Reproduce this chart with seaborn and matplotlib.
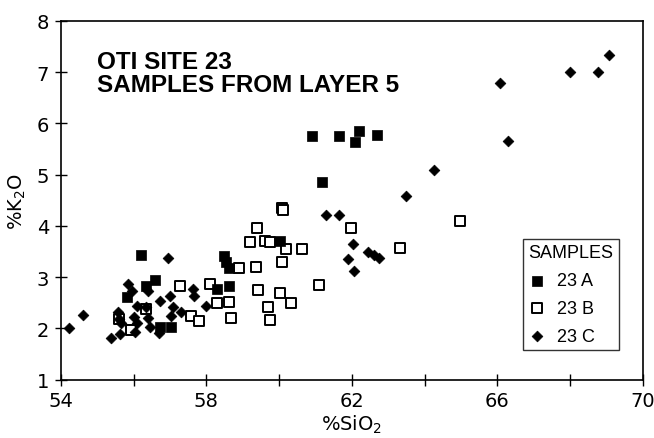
import pandas as pd
import seaborn as sns
import matplotlib.pyplot as plt


# %SiO2 / %K2O
a_sio2 = [56.2, 56.58, 55.82, 56.74, 57.04, 58.48, 58.53, 58.62, 58.28, 58.62,
          56.34, 60.03, 60.91, 61.65, 62.21, 62.1, 62.69, 61.18]
a_k2o = [3.44, 2.95, 2.62, 2.03, 2.03, 3.41, 3.30, 3.17, 2.76, 2.82,
         2.83, 3.71, 5.76, 5.76, 5.86, 5.64, 5.78, 4.86]

b_sio2 = [57.27, 58.09, 58.28, 58.62, 58.67, 57.59, 57.8, 55.94, 56.34, 55.6,
          58.9, 59.36, 59.42, 59.4, 59.21, 59.6, 59.74, 60.18, 60.62, 60.08,
          60.02, 60.33, 59.69, 59.74, 61.1, 61.97, 63.32, 64.98, 60.08, 60.1]
b_k2o = [2.82, 2.86, 2.49, 2.52, 2.21, 2.25, 2.15, 1.97, 2.38, 2.18,
         3.17, 3.19, 2.75, 3.95, 3.68, 3.71, 3.68, 3.54, 3.54, 3.3,
         2.7, 2.49, 2.41, 2.16, 2.85, 3.95, 3.56, 4.09, 4.34, 4.32]

c_sio2 = [54.23, 54.61, 55.37, 55.62, 55.57, 55.6, 55.65, 55.85, 55.97, 56.01,
          56.1, 56.03, 56.1, 56.35, 56.4, 56.4, 56.45, 56.69, 56.74, 56.95,
          56.99, 57.08, 57.02, 57.31, 57.62, 57.66, 58.0, 61.3, 61.65, 63.49,
          62.03, 61.9, 62.06, 62.45, 62.6, 62.76, 64.27, 66.08, 68.01, 68.78,
          69.08, 66.29]
c_k2o = [2.0, 2.26, 1.82, 1.89, 2.32, 2.18, 2.1, 2.87, 2.73, 2.23,
         2.1, 1.93, 2.44, 2.41, 2.21, 2.73, 2.02, 1.91, 2.54, 3.37,
         2.64, 2.41, 2.25, 2.32, 2.77, 2.64, 2.44, 4.22, 4.22, 4.58,
         3.65, 3.36, 3.12, 3.5, 3.44, 3.37, 5.09, 6.78, 7.0, 7.0,
         7.34, 5.66]

x_ticks = [54, 56, 58, 60, 62, 64, 66, 68, 70]
x_labels = ["54", "", "58", "", "62", "", "66", "", "70"]
y_ticks = [1, 2, 3, 4, 5, 6, 7, 8]

df_a = pd.DataFrame({"SiO2": a_sio2, "K2O": a_k2o})
df_b = pd.DataFrame({"SiO2": b_sio2, "K2O": b_k2o})
df_c = pd.DataFrame({"SiO2": c_sio2, "K2O": c_k2o})

sns.set_style("ticks")
plt.rcParams["font.family"] = ["Liberation Sans", "DejaVu Sans"]
plt.rcParams["mathtext.default"] = "regular"
plt.rcParams["text.color"] = "black"
plt.rcParams["axes.labelcolor"] = "black"

fig = plt.figure(figsize=(6.54, 4.39), dpi=100)
ax = fig.add_axes([0.093, 0.133, 0.890, 0.817])

sns.scatterplot(data=df_b, x="SiO2", y="K2O", ax=ax, marker="s", s=60,
                facecolor="white", edgecolor="black", linewidth=1.4,
                label="23 B", zorder=2)
sns.scatterplot(data=df_a, x="SiO2", y="K2O", ax=ax, marker="s", s=45,
                color="black", edgecolor="black", linewidth=0.5,
                label="23 A", zorder=3)
sns.scatterplot(data=df_c, x="SiO2", y="K2O", ax=ax, marker="D", s=30,
                color="black", edgecolor="black", linewidth=0.5,
                label="23 C", zorder=4)

ax.set_xlim(54, 70)
ax.set_ylim(1, 8)
ax.set_xticks(x_ticks)
ax.set_xticklabels(x_labels)
ax.set_yticks(y_ticks)
tick_font = ["DejaVu Sans"]
for lab in ax.get_xticklabels() + ax.get_yticklabels():
    lab.set_family(tick_font)
    lab.set_fontsize(14)
    lab.set_color("black")
ax.tick_params(direction="inout", length=9, width=1, colors="black", pad=4)

for sp in ax.spines.values():
    sp.set_visible(True)
    sp.set_linewidth(1.2)
    sp.set_color("black")

ax.set_xlabel("%SiO$_2$", fontsize=14, family=tick_font, labelpad=2)
ax.set_ylabel("%K$_2$O", fontsize=14, family=tick_font, labelpad=6)

ax.text(0.063, 0.918, "OTI SITE 23\nSAMPLES FROM LAYER 5", transform=ax.transAxes,
        fontsize=17.5, fontweight="bold", va="top", ha="left", linespacing=1.0,
        color="black")

handles, labels = ax.get_legend_handles_labels()
order = [labels.index(n) for n in ["23 A", "23 B", "23 C"]]
leg = ax.legend([handles[i] for i in order], [labels[i] for i in order],
                title="SAMPLES", loc="upper left", bbox_to_anchor=(0.794, 0.392),
                borderaxespad=0, frameon=True, fancybox=False, fontsize=13,
                title_fontsize=13, handletextpad=0.6, labelspacing=0.6,
                borderpad=0.3, handlelength=1.0)
leg._legend_box.align = "left"
leg.get_frame().set_edgecolor("black")
leg.get_frame().set_linewidth(1.0)
for t in leg.get_texts() + [leg.get_title()]:
    t.set_color("black")

fig.savefig("out.png", dpi=100)
